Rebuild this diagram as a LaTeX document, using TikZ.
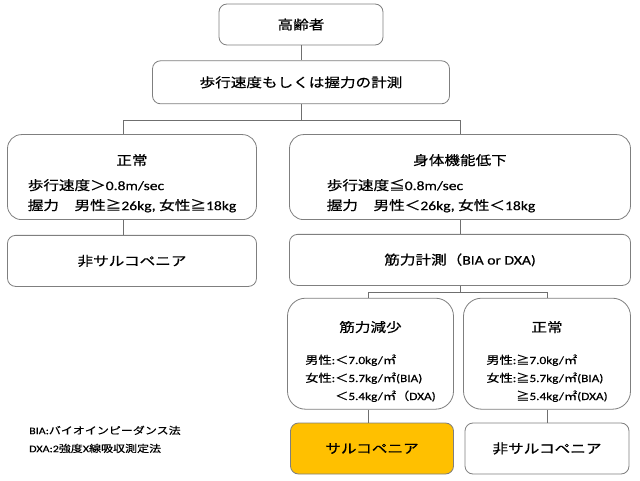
\documentclass[tikz,border=0pt]{standalone}
\usepackage{fontspec}
\setmainfont{Carlito}[FakeStretch=1.2, FakeBold=0.5]
\newfontfamily\jpfont{Noto Sans CJK JP}[FakeStretch=1.2, FakeBold=0.5]
\newcommand{\jtext}[1]{{\jpfont #1}}
\usepackage{tikz}
\usetikzlibrary{positioning}
\definecolor{boxline}{HTML}{7F7F7F}
\definecolor{linkgray}{HTML}{6F6F6F}
\definecolor{sarcofill}{HTML}{FFC000}

\begin{document}
\begin{tikzpicture}[
    box/.style={draw=boxline, line width=0.8pt, rounded corners=8pt, fill=white,
      inner sep=2pt, align=center, font=\fontsize{13}{20}\selectfont},
    bigbox/.style={box, rounded corners=14pt},
    lowbox/.style={box, rounded corners=18pt, font=\fontsize{11}{18}\selectfont},
    link/.style={draw=linkgray, line width=0.6pt},
    note/.style={inner sep=0pt, align=left, font=\fontsize{10}{18}\selectfont},
  ]
  \useasboundingbox (0,0) rectangle (640pt,480pt);

  % Define nodes
  \node[box, minimum width=164pt, minimum height=41pt] (elderly) at (301pt,455.5pt) {\jtext{高齢者}};
  \node[box, below=15pt of elderly, minimum width=297pt, minimum height=43pt] (measure) {\jtext{歩行速度もしくは握力の計測}};
  \node[bigbox, below=30pt of measure, xshift=-169pt, minimum width=249pt, minimum height=85pt] (normal)
    {\rule{0pt}{27pt}\jtext{正常}\\[5pt]
     \begin{tabular}[t]{@{}l@{}}
       \jtext{歩行速度＞}0.8m/sec\\
       \jtext{握力　男性≧}26kg, \jtext{女性≧}18kg
     \end{tabular}};
  \node[bigbox, below=30pt of measure, xshift=159pt, minimum width=341pt, minimum height=85pt] (decline)
    {\rule{0pt}{27pt}\jtext{身体機能低下}\\[5pt]
     \begin{tabular}[t]{@{}l@{\hspace{58pt}}}
       \jtext{歩行速度≦}0.8m/sec\\
       \jtext{握力　男性＜}26kg, \jtext{女性＜}18kg
     \end{tabular}};
  \node[box, below=15pt of normal, minimum width=249pt, minimum height=51pt] (nonsarcoL) {\jtext{非サルコペニア}};
  \node[box, below=14pt of decline, minimum width=341pt, minimum height=51pt] (muscle) {\jtext{筋力計測（}BIA or DXA)};
  \node[lowbox, below=12pt of muscle, xshift=-89.5pt, minimum width=166pt, minimum height=111pt] (loss)
    {\rule{0pt}{30pt}{\fontsize{13}{20}\selectfont\jtext{筋力減少}}\\[14pt]
     \begin{tabular}[t]{@{}l@{}l@{}}
       \jtext{男性}: & \jtext{＜}7.0kg/\jtext{㎡}\\
       \jtext{女性}: & \jtext{＜}5.7kg/\jtext{㎡}(BIA)\\
                     & \jtext{＜}5.4kg/\jtext{㎡（}DXA)
     \end{tabular}};
  \node[lowbox, below=12pt of muscle, xshift=87pt, minimum width=167pt, minimum height=111pt] (fine)
    {\rule{0pt}{30pt}{\fontsize{13}{20}\selectfont\jtext{正常}}\\[14pt]
     \begin{tabular}[t]{@{}l@{}l@{}}
       \jtext{男性}: & \jtext{≧}7.0kg/\jtext{㎡}\\
       \jtext{女性}: & \jtext{≧}5.7kg/\jtext{㎡}(BIA)\\
                     & \jtext{≧}5.4kg/\jtext{㎡}(DXA)
     \end{tabular}};
  \node[box, below=13pt of loss, xshift=1.5pt, minimum width=163pt, minimum height=51pt, fill=sarcofill] (sarco) {\jtext{サルコペニア}};
  \node[box, below=13pt of fine, minimum width=164pt, minimum height=51pt] (nonsarcoR) {\jtext{非サルコペニア}};
  \node[note, anchor=west] (legend) at (29pt,40.6pt)
    {BIA:\jtext{バイオインピーダンス法}\\DXA:2\jtext{強度}X\jtext{線吸収測定法}};

  % Connect the nodes
  \draw[link] (elderly) -- (measure);
  \draw[link] (measure.south) -- ++(0,-16pt) coordinate (split);
  \draw[link] ([xshift=-9pt]normal.north) |- (split) -| (decline.north);
  \draw[link] ([xshift=-8.5pt]normal.south) -- ([xshift=-8.5pt]normal.south |- nonsarcoL.north);
  \draw[link] (decline) -- (muscle);
  \draw[link] (muscle.south) -- ++(0,-6pt) coordinate (split2);
  \draw[link] ([xshift=-2pt]loss.north) |- (split2) -| (fine.north);
  \draw[link] ([xshift=-2pt]loss.south) -- ([xshift=-2pt]loss.south |- sarco.north);
  \draw[link] (fine) -- (fine |- nonsarcoR.north);
\end{tikzpicture}
\end{document}
